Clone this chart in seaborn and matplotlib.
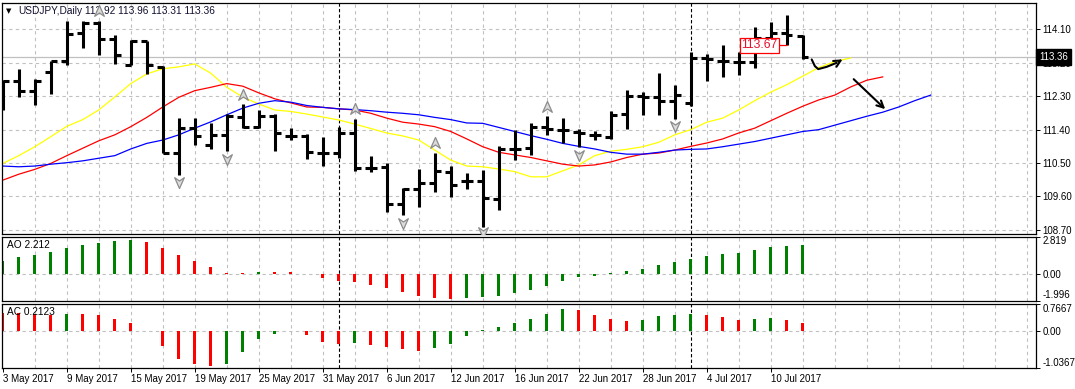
import numpy as np
import pandas as pd
import matplotlib
matplotlib.use("Agg")
import matplotlib.pyplot as plt
import matplotlib.transforms as mtransforms
from matplotlib.path import Path
import seaborn as sns

# values (one entry per daily bar)
date_labels = ["3 May 2017", "9 May 2017", "15 May 2017", "19 May 2017", "25 May 2017",
               "31 May 2017", "6 Jun 2017", "12 Jun 2017", "16 Jun 2017", "22 Jun 2017",
               "28 Jun 2017", "4 Jul 2017", "10 Jul 2017"]
label_bars = [0, 4, 8, 12, 16, 20, 24, 28, 32, 36, 40, 44, 48]
separator_bars = [21, 43]  # new month

opens = [112.40, 112.71, 112.45, 112.96, 113.25, 113.99, 114.26, 113.85, 113.15, 113.78,
         113.09, 110.77, 111.45, 110.98, 111.26, 111.73, 111.46, 111.78, 111.22, 111.22,
         110.77, 110.76, 111.31, 110.38, 110.40, 109.39, 109.80, 109.97, 110.27, 110.02,
         110.02, 109.53, 110.87, 110.90, 111.48, 111.39, 111.33, 111.26, 111.19, 111.82,
         112.30, 112.27, 112.18, 112.12, 113.33, 113.24, 113.22, 113.22, 113.87, 114.01,
         113.92]
highs = [112.73, 113.02, 112.77, 113.25, 114.33, 114.33, 114.33, 113.94, 113.81, 113.78,
         113.11, 111.71, 111.71, 111.58, 111.82, 112.09, 111.93, 111.82, 111.44, 111.27,
         111.21, 111.46, 111.69, 110.69, 110.49, 109.84, 110.33, 110.76, 110.42, 110.22,
         110.31, 110.96, 111.39, 111.57, 111.76, 111.71, 111.42, 111.37, 111.89, 112.46,
         112.41, 112.93, 112.59, 113.49, 113.45, 113.68, 113.49, 114.17, 114.30, 114.49,
         113.96]
lows = [111.94, 112.28, 112.07, 112.36, 113.13, 113.61, 113.41, 113.16, 113.13, 112.90,
        110.76, 110.18, 110.99, 110.88, 110.83, 111.44, 111.44, 110.83, 111.12, 110.61,
        110.42, 110.63, 110.29, 110.27, 109.18, 109.09, 109.33, 109.71, 109.59, 109.79,
        108.78, 109.23, 110.58, 110.72, 111.26, 111.03, 110.94, 111.12, 111.14, 111.42,
        111.80, 111.80, 111.69, 112.03, 112.70, 112.81, 112.86, 113.06, 113.85, 113.68,
        113.31]
closes = [112.71, 112.45, 112.70, 113.25, 113.97, 114.26, 113.85, 113.41, 113.78, 113.13,
          110.77, 111.45, 111.22, 111.26, 111.76, 111.48, 111.78, 111.31, 111.22, 110.79,
          110.76, 111.31, 110.36, 110.38, 109.39, 109.79, 109.97, 110.29, 109.91, 110.02,
          109.55, 110.88, 110.87, 111.48, 111.42, 111.39, 111.31, 111.26, 111.80, 112.30,
          112.28, 112.18, 112.34, 113.33, 113.29, 113.24, 113.22, 113.87, 114.01, 113.94,
          113.36]

# Alligator lines (they run past the last bar because they are shifted forward)
lips = [110.49, 110.70, 110.94, 111.21, 111.49, 111.67, 111.93, 112.28, 112.64, 112.90,
        113.04, 113.09, 113.17, 112.92, 112.54, 112.28, 112.09, 111.93, 111.89, 111.82,
        111.74, 111.66, 111.55, 111.43, 111.31, 111.23, 111.12, 110.85, 110.58, 110.42,
        110.40, 110.34, 110.27, 110.13, 110.13, 110.29, 110.45, 110.70, 110.82, 110.87,
        110.94, 111.06, 111.26, 111.40, 111.60, 111.71, 111.93, 112.18, 112.41, 112.61,
        112.84, 113.07, 113.23, 113.33]
teeth = [110.04, 110.20, 110.33, 110.49, 110.70, 110.90, 111.10, 111.26, 111.48, 111.73,
         112.01, 112.27, 112.45, 112.54, 112.64, 112.57, 112.39, 112.23, 112.12, 112.01,
         112.00, 111.96, 111.93, 111.84, 111.71, 111.60, 111.55, 111.48, 111.35, 111.15,
         110.94, 110.79, 110.72, 110.65, 110.56, 110.47, 110.42, 110.45, 110.53, 110.65,
         110.74, 110.77, 110.85, 110.95, 111.04, 111.15, 111.31, 111.44, 111.64, 111.84,
         112.03, 112.20, 112.33, 112.55, 112.73, 112.82]
jaw = [110.42, 110.40, 110.42, 110.47, 110.51, 110.56, 110.63, 110.70, 110.88, 111.03,
       111.12, 111.26, 111.44, 111.61, 111.80, 111.98, 112.11, 112.18, 112.14, 112.05,
       112.00, 111.96, 111.94, 111.91, 111.87, 111.84, 111.80, 111.73, 111.67, 111.58,
       111.57, 111.46, 111.35, 111.24, 111.14, 111.03, 110.95, 110.88, 110.79, 110.74,
       110.74, 110.79, 110.85, 110.87, 110.88, 110.94, 111.01, 111.08, 111.17, 111.26,
       111.35, 111.40, 111.52, 111.64, 111.76, 111.87, 112.01, 112.18, 112.33]

# fractals
up_bars = [6, 15, 22, 27, 34]
up_vals = [114.60, 112.32, 111.96, 111.03, 112.01]
down_bars = [11, 14, 25, 30, 36, 42]
down_vals = [109.99, 110.62, 108.89, 108.64, 110.71, 111.49]

# Awesome / Accelerator oscillators
ao = [1.00, 1.30, 1.45, 1.66, 1.96, 2.18, 2.36, 2.51, 2.58, 2.43,
      1.96, 1.45, 1.00, 0.55, 0.10, 0.06, 0.17, 0.15, 0.13, 0.03,
      -0.30, -0.50, -0.60, -0.83, -1.05, -1.35, -1.66, -1.78, -1.86, -1.78,
      -1.73, -1.66, -1.43, -1.18, -0.90, -0.53, -0.23, -0.13, 0.08, 0.23,
      0.38, 0.68, 0.90, 1.13, 1.35, 1.50, 1.58, 1.81, 2.03, 2.11,
      2.212]
ac = [0.50, 0.49, 0.47, 0.44, 0.48, 0.475, 0.43, 0.34, 0.225, -0.02,
      -0.42, -0.79, -0.93, -0.99, -0.93, -0.59, -0.23, -0.08, -0.02, -0.11,
      -0.31, -0.38, -0.35, -0.39, -0.45, -0.51, -0.56, -0.48, -0.37, -0.14,
      0.03, 0.11, 0.23, 0.34, 0.48, 0.62, 0.59, 0.45, 0.34, 0.28,
      0.31, 0.42, 0.43, 0.48, 0.45, 0.39, 0.31, 0.335, 0.345, 0.31,
      0.2123]
ao_range = (-1.996, 2.819)
ac_range = (-1.0367, 0.7667)

price_ticks = [108.70, 109.60, 110.50, 111.40, 112.30, 113.20, 114.10]
price_range = (108.59, 114.81)
bid = 113.36
label_price = 113.67
ohlc_text = "113.92 113.96 113.31 113.36"

# hand drawn arrows on the chart (bar, price)
curl_x = [50.56, 50.76, 50.97, 51.49, 52.12, 52.64]
curl_y = [113.29, 113.11, 113.03, 113.09, 113.20, 113.33]
arrow2 = [(53.06, 112.81), (55.28, 111.90)]

plt.rcParams["font.family"] = ["Liberation Sans", "DejaVu Sans"]
plt.rcParams["font.size"] = 7

W, H = 1075, 389
fig = plt.figure(figsize=(W / 100, H / 100), dpi=100)


def box(x0, y0, x1, y1):
    return [x0 / W, 1 - y1 / H, (x1 - x0) / W, (y1 - y0) / H]


ax = fig.add_axes(box(2, 3, 1036, 234))
ax_ao = fig.add_axes(box(2, 236.5, 1036, 300.5))
ax_ac = fig.add_axes(box(2, 303.5, 1036, 367.5))
xlim = (-0.05, 64.58)
grid_kw = dict(color="#c0c0c0", lw=0.8, ls=(0, (3, 3)), zorder=0)

for a in (ax, ax_ao, ax_ac):
    a.set_xlim(*xlim)
    for s in a.spines.values():
        s.set_linewidth(0.9)
        s.set_color("black")
    for xg in range(2, 65, 2):
        a.axvline(xg, **grid_kw)
    for xs in separator_bars:
        a.axvline(xs, color="black", lw=0.8, ls=(0, (3, 2)), zorder=1)
    a.yaxis.tick_right()
    a.tick_params(axis="y", length=3, width=0.7, pad=1.5, labelsize=7)

# ---- main price panel ----
bars = np.arange(len(opens))
for yg in price_ticks:
    ax.axhline(yg, **grid_kw)
ax.axhline(bid, color="#c0c0c0", lw=0.9, zorder=0.5)

sns.lineplot(x=np.arange(len(lips)), y=lips, color="#ffff00", lw=0.9, ax=ax, zorder=2)
sns.lineplot(x=np.arange(len(teeth)), y=teeth, color="#ff0000", lw=0.9, ax=ax, zorder=2)
sns.lineplot(x=np.arange(len(jaw)), y=jaw, color="#0000ff", lw=0.9, ax=ax, zorder=2)

ax.vlines(bars, lows, highs, color="black", lw=2.2, zorder=3)
ax.hlines(opens, bars - 0.36, bars, color="black", lw=2.2, zorder=3)
ax.hlines(closes, bars, bars + 0.36, color="black", lw=2.2, zorder=3)

up_marker = Path([(0, 1), (0.8, -0.8), (0, -0.25), (-0.8, -0.8), (0, 1)],
                 [Path.MOVETO, Path.LINETO, Path.LINETO, Path.LINETO, Path.CLOSEPOLY])
down_marker = Path([(0, -1), (0.8, 0.8), (0, 0.25), (-0.8, 0.8), (0, -1)],
                   [Path.MOVETO, Path.LINETO, Path.LINETO, Path.LINETO, Path.CLOSEPOLY])
ax.scatter(up_bars, up_vals, marker=up_marker, s=75, facecolor="#dcdcdc",
           edgecolor="#8c8c8c", lw=0.9, zorder=4)
ax.scatter(down_bars, down_vals, marker=down_marker, s=75, facecolor="#dcdcdc",
           edgecolor="#8c8c8c", lw=0.9, zorder=4)

# price label object
ax.text(47.3, label_price, "113.67", color="#e8102e", fontsize=8.8, ha="center", va="center",
        bbox=dict(boxstyle="square,pad=0.12", fc="white", ec="#ff0000", lw=0.9), zorder=5)
ax.hlines(label_price, 48.45, 49.0, color="#ff0000", lw=0.9, zorder=4)

# hand drawn arrows
ax.plot(curl_x[:-1], curl_y[:-1], color="black", lw=1.5, zorder=5, solid_capstyle="round")
ax.annotate("", xy=(curl_x[-1], curl_y[-1]), xytext=(curl_x[-2], curl_y[-2]),
            arrowprops=dict(arrowstyle="->", color="black", lw=1.5, mutation_scale=12), zorder=5)
ax.annotate("", xy=arrow2[1], xytext=arrow2[0],
            arrowprops=dict(arrowstyle="->", color="black", lw=1.5, mutation_scale=12), zorder=5)

ax.set_ylim(*price_range)
ax.set_yticks(price_ticks, labels=[f"{v:.2f}" for v in price_ticks])
ax.set_xticks([])
ax.set_xlabel("")
ax.set_ylabel("")

# current bid box on the price scale
bt = mtransforms.blended_transform_factory(ax.transAxes, ax.transData)
ax.text(1.0 + 3 / 1034, bid, f"{bid:.2f}", transform=bt, color="white", ha="left", va="center",
        fontsize=7, bbox=dict(boxstyle="square,pad=0.28", fc="black", ec="black"),
        clip_on=False, zorder=10)

ax.text(0.004, 0.965, "\u25bc", transform=ax.transAxes, fontsize=5, family="DejaVu Sans",
        va="center", ha="left")
ax.text(0.0155, 0.965, "USDJPY,Daily", transform=ax.transAxes, fontsize=7.3, va="center",
        ha="left", color="#101030")
ax.text(0.080, 0.965, ohlc_text, transform=ax.transAxes, fontsize=7.3, va="center", ha="left",
        color="#101030")

# ---- oscillator panels ----
def osc_panel(a, vals, first_col, yr, title):
    cols = [first_col] + ["up" if v > p else "down" for p, v in zip(vals[:-1], vals[1:])]
    df = pd.DataFrame({"bar": np.arange(len(vals)), "val": vals, "col": cols})
    sns.barplot(data=df, x="bar", y="val", hue="col", palette={"up": "#008000", "down": "#ff0000"},
                native_scale=True, width=0.19, dodge=False, legend=False, errorbar=None,
                saturation=1, linewidth=0, ax=a, zorder=2)
    a.axhline(0, **grid_kw)
    a.set_xlim(*xlim)
    a.set_ylim(*yr)
    labels = [f"{yr[0]:g}", "0.00", f"{yr[1]:g}"]
    a.set_yticks([yr[0], 0, yr[1]], labels=labels)
    tl = a.get_yticklabels()
    tl[0].set_va("bottom")
    tl[2].set_va("top")
    a.set_xlabel("")
    a.set_ylabel("")
    a.text(0.005, 0.86, title, transform=a.transAxes, fontsize=7.3, ha="left", va="center")


osc_panel(ax_ao, ao, "up", ao_range, f"AO {ao[-1]:.3f}")
osc_panel(ax_ac, ac, "down", ac_range, f"AC {ac[-1]:.4f}")
ax_ao.set_xticks([])

ax_ac.set_xticks(label_bars, labels=date_labels)
for t in ax_ac.get_xticklabels():
    t.set_ha("left")
ax_ac.tick_params(axis="x", length=3, width=0.7, pad=2, labelsize=7)

fig.savefig("out.png", dpi=100)
